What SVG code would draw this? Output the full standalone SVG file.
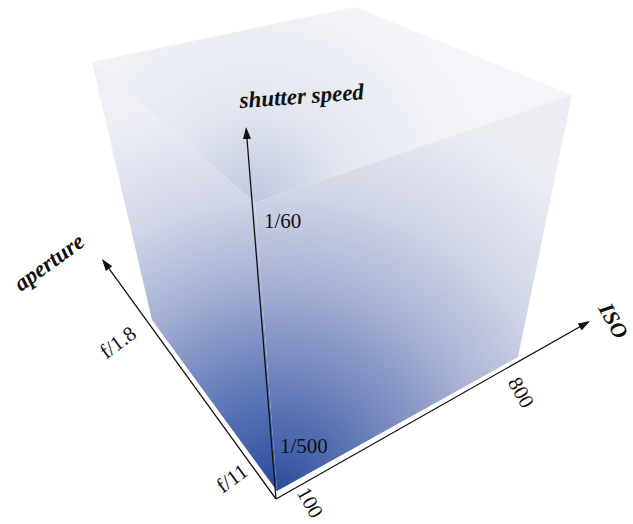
<svg xmlns="http://www.w3.org/2000/svg" width="633" height="524" viewBox="0 0 633 524">
  <style>
    .axis { stroke: #111; stroke-width: 1.3; fill: none; marker-end: url(#arrow); }
    .lbl { font-family: "Liberation Serif", "Times New Roman", serif; font-weight: bold; font-style: italic; fill: #111; }
    .tick { font-family: "Liberation Serif", "Times New Roman", serif; font-size: 21px; fill: #111; }
  </style>
  <defs>
    <marker id="arrow" markerUnits="userSpaceOnUse" markerWidth="13" markerHeight="9" refX="10" refY="4" orient="auto">
      <path d="M0,0 L12,4 L0,8 z" fill="#111"/>
    </marker>
    <radialGradient id="gLeft" gradientUnits="userSpaceOnUse" cx="277" cy="495" r="410">
      <stop offset="0" stop-color="#274799"/>
      <stop offset="0.12" stop-color="#3f5ea9"/>
      <stop offset="0.3" stop-color="#6a80bc"/>
      <stop offset="0.5" stop-color="#a0acd2"/>
      <stop offset="0.72" stop-color="#d0d5e7"/>
      <stop offset="1" stop-color="#eff0f6"/>
    </radialGradient>
    <radialGradient id="gRight" gradientUnits="userSpaceOnUse" cx="277" cy="495" r="420">
      <stop offset="0" stop-color="#2c4a9a"/>
      <stop offset="0.12" stop-color="#4763ab"/>
      <stop offset="0.3" stop-color="#7587bf"/>
      <stop offset="0.5" stop-color="#a6b0d3"/>
      <stop offset="0.72" stop-color="#d0d5e6"/>
      <stop offset="1" stop-color="#eceef4"/>
    </radialGradient>
    <radialGradient id="gTop" gradientUnits="userSpaceOnUse" cx="255" cy="203" r="230">
      <stop offset="0" stop-color="#c0c8df"/>
      <stop offset="0.4" stop-color="#e1e5ef"/>
      <stop offset="1" stop-color="#f5f6fa"/>
    </radialGradient>
  </defs>
  <rect width="633" height="524" fill="#ffffff"/>

  <g id="cube">
    <polygon points="255,203 92,62 355,7 572,95" fill="url(#gTop)"/>
    <polygon points="277,491 152,320 92,62 255,203" fill="url(#gLeft)"/>
    <polygon points="277,491 518,357 572,95 255,203" fill="url(#gRight)"/>
  </g>

  <g id="connectors">
    <line class="axis" x1="276" y1="499" x2="246.2" y2="129"/>
    <line class="axis" x1="276" y1="499" x2="103.2" y2="260.6"/>
    <line class="axis" x1="276" y1="499" x2="588.3" y2="322"/>
  </g>

  <g id="shutter-speed">
    <text class="lbl" x="240" y="108" font-size="23" transform="rotate(-4 240 108)">shutter speed</text>
    <text class="tick" x="264" y="228">1/60</text>
    <text class="tick" x="280" y="453">1/500</text>
  </g>

  <g id="aperture">
    <text class="lbl" x="21" y="292" font-size="23" transform="rotate(-36 21 292)">aperture</text>
    <text class="tick" x="122" y="348" text-anchor="middle" transform="rotate(-36 122 348)">f/1.8</text>
    <text class="tick" x="236" y="484" text-anchor="middle" transform="rotate(-36 236 484)">f/11</text>
  </g>

  <g id="iso">
    <text class="lbl" x="607" y="324.5" font-size="22" text-anchor="middle" transform="rotate(60.5 607 324.5)">ISO</text>
    <text class="tick" x="515" y="396" text-anchor="middle" transform="rotate(60.5 515 396)">800</text>
    <text class="tick" x="304" y="506" text-anchor="middle" transform="rotate(60.5 304 506)">100</text>
  </g>
</svg>
